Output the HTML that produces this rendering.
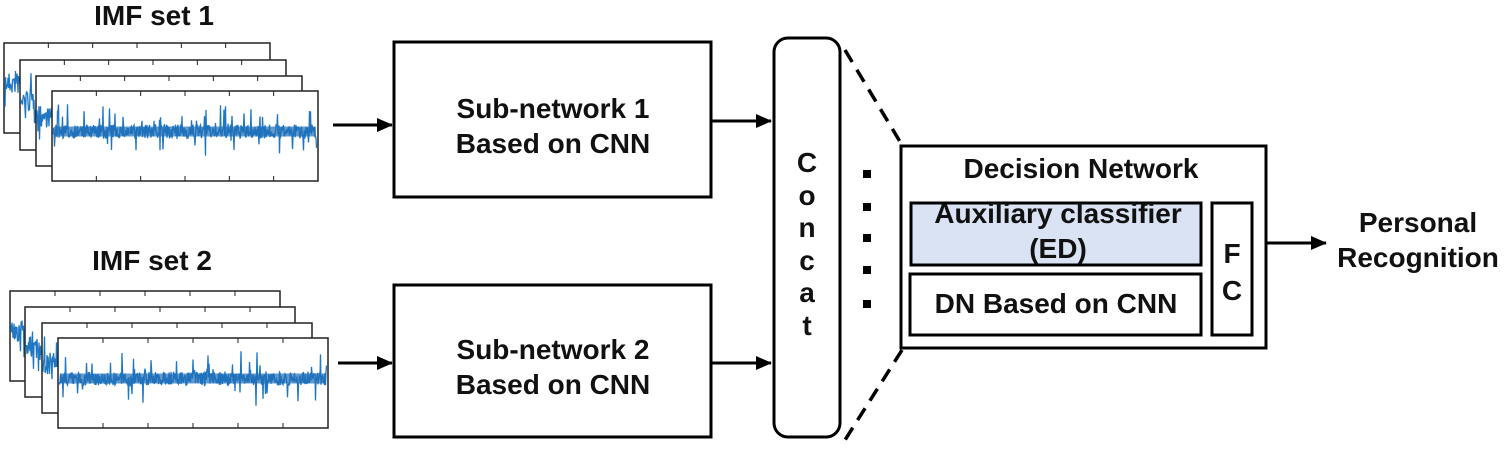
<!DOCTYPE html>
<html><head><meta charset="utf-8"><style>
body{margin:0;background:#fff;width:1505px;height:445px;overflow:hidden}
svg text{font-family:"Liberation Sans",Arial,Helvetica,sans-serif !important;font-weight:bold;fill:#111}
</style></head><body>
<svg id="s" width="1505" height="445" viewBox="0 0 1505 445" xmlns="http://www.w3.org/2000/svg" font-family="Liberation Sans, Arial, sans-serif">
<defs><marker id="a" markerWidth="16" markerHeight="14" refX="15" refY="7" orient="auto" markerUnits="userSpaceOnUse"><path d="M0,0 L16,7 L0,14z" fill="#000"/></marker></defs>
<text x="154" y="25" font-size="28" text-anchor="middle">IMF set 1</text>
<text x="152" y="270" font-size="28" text-anchor="middle">IMF set 2</text>
<g id="w"></g>
<g stroke="#000" stroke-width="3" fill="none">
<rect x="394" y="42" width="317" height="155"/>
<rect x="394" y="285" width="317" height="152"/>
<rect x="774" y="38" width="66" height="399" rx="14"/>
<rect x="901" y="146" width="365" height="202"/>
<rect x="911" y="203" width="290" height="62" fill="#dae3f3"/>
<rect x="910" y="274" width="291" height="61"/>
<rect x="1212" y="203" width="40" height="132"/>
<line x1="333" y1="125" x2="392" y2="125" marker-end="url(#a)"/>
<line x1="711" y1="121" x2="771" y2="121" marker-end="url(#a)"/>
<line x1="338" y1="363" x2="392" y2="363" marker-end="url(#a)"/>
<line x1="711" y1="363" x2="771" y2="363" marker-end="url(#a)"/>
<line x1="1266" y1="243" x2="1326" y2="243" marker-end="url(#a)"/>
<line x1="845" y1="50" x2="902" y2="145" stroke-dasharray="14,9" stroke-width="3.5"/>
<line x1="902" y1="350" x2="845" y2="440" stroke-dasharray="14,9" stroke-width="3.5"/>
</g>
<g fill="#000"><rect x="863" y="170" width="8" height="8"/><rect x="863" y="203" width="8" height="8"/><rect x="863" y="234" width="8" height="8"/><rect x="863" y="266" width="8" height="8"/><rect x="863" y="300" width="8" height="8"/></g>
<text font-size="28" text-anchor="middle"><tspan x="553" y="118">Sub-network 1</tspan><tspan x="553" y="153">Based on CNN</tspan></text>
<text font-size="28" text-anchor="middle"><tspan x="553" y="359">Sub-network 2</tspan><tspan x="553" y="394">Based on CNN</tspan></text>
<text font-size="28" text-anchor="middle"><tspan x="807" y="172">C</tspan><tspan x="807" y="205">o</tspan><tspan x="807" y="237">n</tspan><tspan x="807" y="270">c</tspan><tspan x="807" y="302">a</tspan><tspan x="807" y="335">t</tspan></text>
<text x="1081" y="178" font-size="28" text-anchor="middle">Decision Network</text>
<text font-size="28" text-anchor="middle"><tspan x="1058" y="223">Auxiliary classifier</tspan><tspan x="1058" y="258">(ED)</tspan></text>
<text x="1056" y="313" font-size="28" text-anchor="middle">DN Based on CNN</text>
<text font-size="28" text-anchor="middle"><tspan x="1232" y="263">F</tspan><tspan x="1232" y="300">C</tspan></text>
<text font-size="28" text-anchor="middle"><tspan x="1418" y="232">Personal</tspan><tspan x="1418" y="267">Recognition</tspan></text>
</svg>
<script>
var g=document.getElementById('w'),ns='http://www.w3.org/2000/svg',seed=7;
function r(){seed=(seed*16807)%2147483647;return seed/2147483647;}
function frame(x,y,w,h,last){
 var rc=document.createElementNS(ns,'rect');rc.setAttribute('x',x);rc.setAttribute('y',y);rc.setAttribute('width',w);rc.setAttribute('height',h);rc.setAttribute('fill','#fff');rc.setAttribute('stroke','#222');rc.setAttribute('stroke-width','1.5');g.appendChild(rc);
 var d='';for(var i=1;i<6;i++){var tx=x+w*i/6;d+='M'+tx+','+y+'v5';if(last)d+='M'+tx+','+(y+h)+'v-5';}
 var p=document.createElementNS(ns,'path');p.setAttribute('d',d);p.setAttribute('stroke','#222');g.appendChild(p);
 var cy=y+h*0.45,pts='';var end=last?x+w-1:x+17;
 for(var xx=x+1;xx<end;xx+=0.5){var big=r()<0.12;var a=(r()-0.5)*(big?55:(last?14:22));pts+=xx.toFixed(1)+','+(cy+a).toFixed(1)+' ';}
 var pl=document.createElementNS(ns,'polyline');pl.setAttribute('points',pts);pl.setAttribute('fill','none');pl.setAttribute('stroke','#1f77c4');pl.setAttribute('stroke-width','1.3');g.appendChild(pl);
 if(last){var band=document.createElementNS(ns,'rect');band.setAttribute('x',x+2);band.setAttribute('y',cy-5);band.setAttribute('width',w-4);band.setAttribute('height',10);band.setAttribute('fill','#1f6fb8');band.setAttribute('opacity','0.7');g.appendChild(band);}
}
[[4,43],[20,60],[36,76],[52,91]].forEach(function(p,i){frame(p[0],p[1],266,90,i==3)});
[[10,291],[25,307],[42,323],[58,338]].forEach(function(p,i){frame(p[0],p[1],270,90,i==3)});
</script>
</body></html>
